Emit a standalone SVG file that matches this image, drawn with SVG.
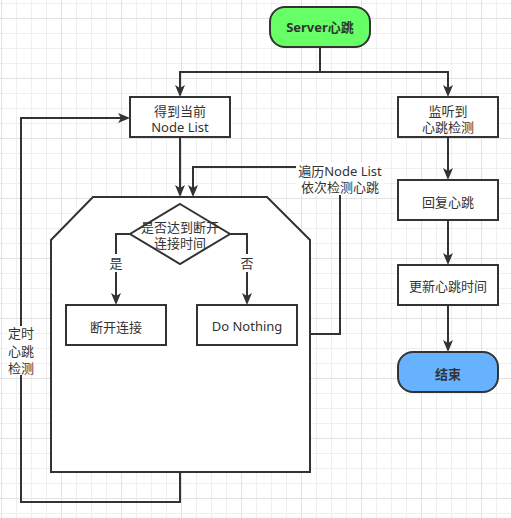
<svg xmlns="http://www.w3.org/2000/svg" width="511" height="518" viewBox="0 0 511 518">
  <defs>
    <!-- background grid: minor every 15px, major every 60px -->
    <pattern id="grid" x="1" y="18" width="60" height="60" patternUnits="userSpaceOnUse">
      <rect x="15" y="0" width="1" height="60" fill="#efefef"/>
      <rect x="30" y="0" width="1" height="60" fill="#efefef"/>
      <rect x="45" y="0" width="1" height="60" fill="#efefef"/>
      <rect x="0" y="15" width="60" height="1" fill="#efefef"/>
      <rect x="0" y="30" width="60" height="1" fill="#efefef"/>
      <rect x="0" y="45" width="60" height="1" fill="#efefef"/>
      <rect x="0" y="0" width="1" height="60" fill="#e2e2e2"/>
      <rect x="0" y="0" width="60" height="1" fill="#e2e2e2"/>
    </pattern>
    <marker id="arrow" viewBox="0 0 12 10" refX="4" refY="5" markerWidth="12" markerHeight="10" markerUnits="userSpaceOnUse" orient="auto">
      <path d="M0,0 L12,5 L0,10 L3,5 Z" fill="#333333"/>
    </marker>
  </defs>
  <style>
    .node { fill: #ffffff; stroke: #333333; stroke-width: 2; }
    .edge { fill: none; stroke: #333333; stroke-width: 2; }
    .label { font-family: "Noto Sans", "Noto Sans CJK SC", sans-serif; font-size: 13px; fill: #333333; text-anchor: middle; }
    .bold { font-weight: bold; }
    .bg { fill: #ffffff; }
  </style>

  <rect x="0" y="0" width="511" height="518" fill="#ffffff"/>
  <rect x="0" y="0" width="511" height="518" fill="url(#grid)"/>

  <!-- loop container -->
  <g id="loop">
    <path class="node" d="M93,197 L267,197 L310,240 L310,472 L51,472 L51,240 Z"/>
  </g>

  <g id="connectors">
    <path class="edge" marker-end="url(#arrow)" d="M320,47 V72 H180 V89"/>
    <path class="edge" marker-end="url(#arrow)" d="M320,72 H448 V89"/>
    <path class="edge" marker-end="url(#arrow)" d="M180,137 V189"/>
    <path class="edge" marker-end="url(#arrow)" d="M310,334 H340 V167 H193 V189"/>
    <path class="edge" marker-end="url(#arrow)" d="M130,234 H116 V297"/>
    <path class="edge" marker-end="url(#arrow)" d="M230,234 H247 V297"/>
    <path class="edge" marker-end="url(#arrow)" d="M180,472 V502 H21 V118 H122"/>
    <path class="edge" marker-end="url(#arrow)" d="M448,137 V172"/>
    <path class="edge" marker-end="url(#arrow)" d="M448,220 V257"/>
    <path class="edge" marker-end="url(#arrow)" d="M448,305 V344"/>

    <!-- edge labels -->
    <rect class="bg" x="296" y="162" width="88" height="33"/>
    <text class="label" x="340" y="176">遍历Node List<tspan x="340" dy="16">依次检测心跳</tspan></text>

    <rect class="bg" x="108" y="254" width="16" height="18"/>
    <text class="label" x="116" y="268">是</text>
    <rect class="bg" x="239" y="254" width="16" height="18"/>
    <text class="label" x="247" y="268">否</text>

    <rect class="bg" x="7" y="326" width="28" height="49"/>
    <text class="label" x="21" y="338">定时<tspan x="21" dy="18">心跳</tspan><tspan x="21" dy="17">检测</tspan></text>
  </g>

  <g id="start">
    <rect x="270" y="7" width="100" height="40" rx="15" ry="15" fill="#66ff66" stroke="#333333" stroke-width="2"/>
    <text class="label bold" x="320" y="32">Server心跳</text>
  </g>

  <g id="get-node-list">
    <rect class="node" x="130" y="97" width="100" height="40"/>
    <text class="label" x="180" y="116">得到当前<tspan x="180" dy="16">Node List</tspan></text>
  </g>

  <g id="listen">
    <rect class="node" x="398" y="97" width="100" height="40"/>
    <text class="label" x="448" y="116">监听到<tspan x="448" dy="16">心跳检测</tspan></text>
  </g>

  <g id="timeout-check">
    <path class="node" d="M180,204 L230,234 L180,264 L130,234 Z"/>
    <text class="label" x="180" y="232">是否达到断开<tspan x="180" dy="16">连接时间</tspan></text>
  </g>

  <g id="disconnect">
    <rect class="node" x="66" y="305" width="100" height="40"/>
    <text class="label" x="116" y="331.5">断开连接</text>
  </g>

  <g id="do-nothing">
    <rect class="node" x="197" y="305" width="100" height="40"/>
    <text class="label" x="247" y="331">Do Nothing</text>
  </g>

  <g id="reply">
    <rect class="node" x="398" y="180" width="100" height="40"/>
    <text class="label" x="448" y="207">回复心跳</text>
  </g>

  <g id="update-time">
    <rect class="node" x="398" y="265" width="100" height="40"/>
    <text class="label" x="448" y="291">更新心跳时间</text>
  </g>

  <g id="end">
    <rect x="398" y="352" width="100" height="40" rx="15" ry="15" fill="#66b2ff" stroke="#333333" stroke-width="2"/>
    <text class="label bold" x="448" y="379">结束</text>
  </g>
</svg>
